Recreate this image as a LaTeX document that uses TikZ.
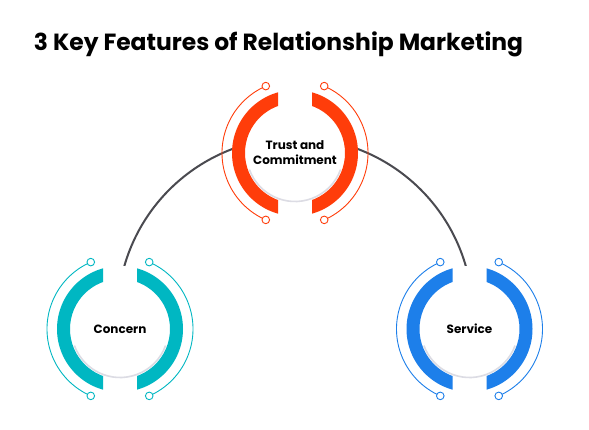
\documentclass[tikz,border=0pt]{standalone}
\usepackage{fontspec}
\setmainfont{Poppins}
\usetikzlibrary{calc}
\definecolor{corange}{HTML}{FF3D0A}
\definecolor{cteal}{HTML}{00B7C2}
\definecolor{cblue}{HTML}{1D7FEA}
\definecolor{cline}{HTML}{4A4A50}
\definecolor{cshadow}{HTML}{DCDCE4}
\newcommand\ringdeco[2]{%
  \fill[white] (#1) circle[radius=63];
  \draw[cshadow, line width=1.6] ($(#1)+(200:48.5)$) arc[start angle=200,end angle=340,radius=48.5];
  \begin{scope}
    \clip ($(#1)+(-90,-90)$) rectangle ($(#1)+(-17,90)$);
    \fill[#2, even odd rule] (#1) circle[radius=63] (#1) circle[radius=50];
  \end{scope}
  \begin{scope}
    \clip ($(#1)+(17,-90)$) rectangle ($(#1)+(90,90)$);
    \fill[#2, even odd rule] (#1) circle[radius=63] (#1) circle[radius=50];
  \end{scope}
  \draw[#2, thinring] ($(#1)+(113.6:73)$) arc[start angle=113.6, end angle=246.4, radius=73];
  \draw[#2, thinring] ($(#1)+(66.4:73)$) arc[start angle=66.4, end angle=-66.4, radius=73];
  \foreach \a in {66.4,113.6,246.4,293.6}
    \filldraw[fill=white, draw=#2, thinring] ($(#1)+(\a:73)$) circle[radius=3.8];
}
\begin{document}
\begin{tikzpicture}[x=1pt,y=1pt,
  thinring/.style={line width=0.9pt},
  lbl/.style={font=\bfseries\fontsize{12}{15}\selectfont, align=center, text=black},
  titlestyle/.style={font=\bfseries\fontsize{23.4}{28}\selectfont, text=black},
  connector/.style={draw=cline, line width=2pt}]
\useasboundingbox (0,0) rectangle (589,430);
\fill[white] (0,0) rectangle (589,430);
\node[titlestyle] (title) at (278.5,386) {3 Key Features of Relationship Marketing};
\coordinate (ctop) at (295,277);
\coordinate (cleft) at (120,101);
\coordinate (cright) at (469.5,101);
\coordinate (lend) at (122,155);
\coordinate (rend) at (468,155);
% connector arc (passes behind the top node)
\draw[connector] (lend) arc[start angle=166.9, end angle=13.1, radius=177.7];
\ringdeco{ctop}{corange}
\ringdeco{cleft}{cteal}
\ringdeco{cright}{cblue}
\node[lbl] (trust) at (ctop) {Trust and\\Commitment};
\node[lbl] (concern) at (cleft) {Concern};
\node[lbl] (service) at (cright) {Service};
\end{tikzpicture}
\end{document}
